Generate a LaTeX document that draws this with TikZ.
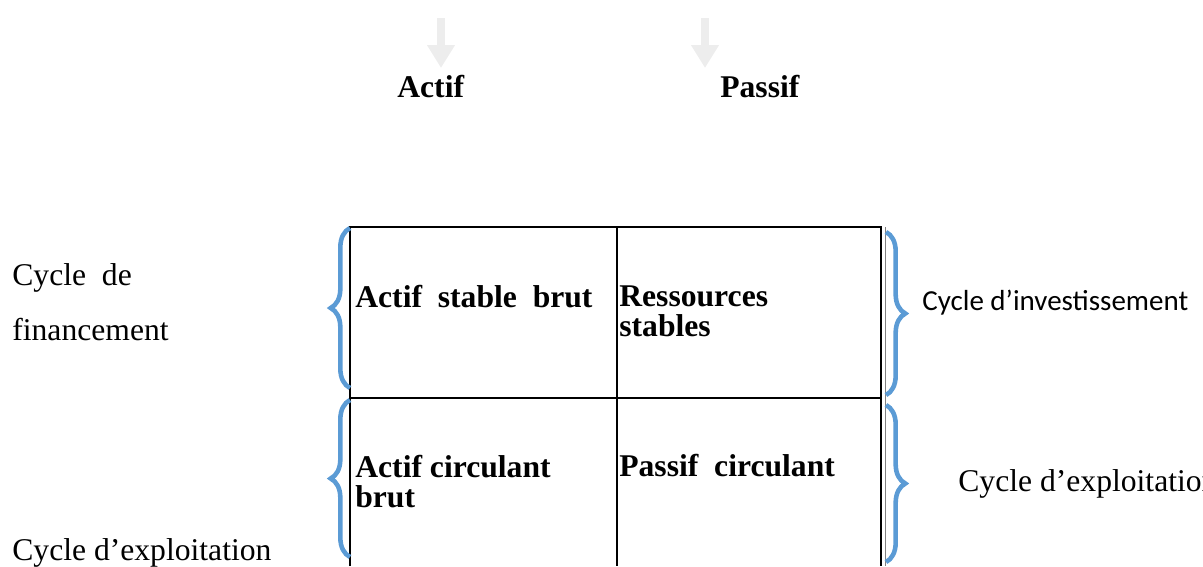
\documentclass[tikz,border=0pt]{standalone}
\usepackage{fontspec}
\setmainfont{Liberation Serif}
\newfontfamily\calibri{Carlito}
\usetikzlibrary{arrows.meta,decorations.pathreplacing}
\definecolor{braceblue}{HTML}{5B9BD5}
\tikzstyle{mybrace}=[draw=braceblue,line width=2.6pt,decorate,decoration={brace,amplitude=11pt}]
\tikzstyle{mygrey}=[gray!14,line width=4.5pt,-{Triangle[width=15pt,length=13pt]}]
\tikzstyle{celltext}=[anchor=base west,inner sep=0pt,align=left,font=\fontsize{18}{17}\selectfont\bfseries]
\tikzstyle{sidetext}=[anchor=base west,inner sep=0pt,font=\fontsize{18}{22}\selectfont]

\begin{document}
\begin{tikzpicture}[x=0.02cm,y=-0.02cm]
	\useasboundingbox (0,0) rectangle (1203,566);
	% headings
	\node[sidetext,font=\fontsize{18}{22}\selectfont\bfseries] (actif) at (397,97) {Actif};
	\node[sidetext,font=\fontsize{18}{22}\selectfont\bfseries] (passif) at (720,97) {Passif};
	\foreach \n/\x in {a/441,p/705}{
		\coordinate (top\n) at (\x,18); \coordinate (end\n) at (\x,68);
		\draw[mygrey] (top\n) -- (end\n);}
	% the table
	\draw[semithick] (350,566) -- (350,227) -- (881,227) -- (881,566);
	\draw[semithick] (350,398) -- (881,398);
	\draw[semithick] (617,227) -- (617,566);
	\draw[thin,gray] (885,227) -- (885,566);
	\node[celltext] (asb) at (355,307) {Actif~ stable~ brut};
	\node[celltext] (rs) at (619,336) {Ressources\\stables};
	\node[celltext] (acb) at (355,507) {Actif circulant\\brut};
	\node[celltext] (pc) at (619,476) {Passif~ circulant};
	% braces
	\foreach \a/\b in {388/228,557/400}{ \draw[mybrace] (350,\a) -- (350,\b);}
	\foreach \a/\b in {232/395,405/562}{ \draw[mybrace] (886,\a) -- (886,\b);}
	% side labels
	\node[sidetext] (cdf) at (12,285) {Cycle~ de};
	\node[sidetext] (fin) at (12,340) {financement};
	\node[sidetext] (cde) at (12,560) {Cycle d’exploitation};
	\node[sidetext,font=\fontsize{16.5}{20}\selectfont\calibri] (cdi) at (922,310) {Cycle d’investissement};
	\node[sidetext] (cde2) at (958,491) {Cycle d’exploitation};
\end{tikzpicture}
\end{document}
